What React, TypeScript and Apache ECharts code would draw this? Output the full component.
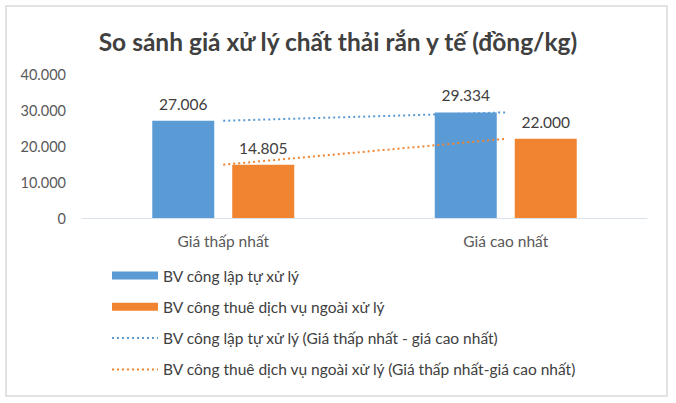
import React, { useEffect, useRef } from "react";
import * as echarts from "echarts";

const categories = ["Giá thấp nhất", "Giá cao nhất"];
const publicSelf = [27006, 29334];
const publicOutsourced = [14805, 22000];
const seriesNames = [
  "BV công lập tự xử lý",
  "BV công thuê dịch vụ ngoài xử lý",
  "BV công lập tự xử lý (Giá thấp nhất - giá cao nhất)",
  "BV công thuê dịch vụ ngoài xử lý (Giá thấp nhất-giá cao nhất)",
];
const titleText = "So sánh giá xử lý chất thải rắn y tế (đồng/kg)";

const BLUE = "#5B9BD5";
const ORANGE = "#F08430";
const TEXT = "#404040";
const FONT = "Lato, 'Open Sans', sans-serif";

const fmt = (v: number) =>
  String(Math.round(v)).replace(/\B(?=(\d{3})+(?!\d))/g, ".");

export default function App() {
  const ref = useRef<HTMLDivElement>(null);
  useEffect(() => {
    if (!ref.current) return;
    const chart = echarts.init(ref.current, null, { renderer: "svg" });
    chart.setOption({
      animation: false,
      backgroundColor: "#ffffff",
      textStyle: { fontFamily: FONT },
      graphic: [
        {
          type: "rect",
          shape: { x: 6, y: 6, width: 661, height: 390 },
          style: { fill: "none", stroke: "#d9d9d9", lineWidth: 1.5 },
          silent: true,
        },
      ],
      title: {
        text: titleText,
        left: "center",
        top: 24,
        textStyle: {
          fontFamily: FONT,
          fontSize: 24.5,
          fontWeight: "bold",
          color: TEXT,
        },
      },
      legend: {
        orient: "vertical",
        left: 106,
        top: 262,
        itemWidth: 46,
        itemHeight: 8,
        itemGap: 14.3,
        textStyle: {
          fontFamily: FONT,
          fontSize: 15.5,
          color: TEXT,
          lineHeight: 17,
        },
        data: [
          { name: seriesNames[0], icon: "rect" },
          { name: seriesNames[1], icon: "rect" },
          { name: seriesNames[2], itemStyle: { opacity: 0 } },
          { name: seriesNames[3], itemStyle: { opacity: 0 } },
        ],
      },
      grid: { left: 82, right: 29, top: 74, height: 144 },
      xAxis: {
        type: "category",
        data: categories,
        axisLine: { lineStyle: { color: "#d9e1ea", width: 1 } },
        axisTick: { show: false },
        axisLabel: {
          fontFamily: FONT,
          fontSize: 15.5,
          color: "#595959",
          margin: 15,
        },
      },
      yAxis: {
        type: "value",
        min: 0,
        max: 40000,
        interval: 10000,
        splitLine: { show: false },
        axisLine: { show: false },
        axisTick: { show: false },
        axisLabel: {
          fontFamily: FONT,
          fontSize: 14.5,
          color: "#595959",
          margin: 16,
          formatter: (v: number) => fmt(v),
        },
      },
      series: [
        {
          name: seriesNames[0],
          type: "bar",
          data: publicSelf,
          barWidth: 62,
          barGap: "29%",
          itemStyle: { color: BLUE },
          label: {
            show: true,
            position: "top",
            distance: 9,
            fontFamily: FONT,
            fontSize: 15.5,
            color: TEXT,
            formatter: (p: any) => fmt(p.value),
          },
        },
        {
          name: seriesNames[1],
          type: "bar",
          data: publicOutsourced,
          barWidth: 62,
          barGap: "29%",
          itemStyle: { color: ORANGE },
          label: {
            show: true,
            position: "top",
            distance: 9,
            fontFamily: FONT,
            fontSize: 15.5,
            color: TEXT,
            formatter: (p: any) => fmt(p.value),
          },
        },
        {
          name: seriesNames[2],
          type: "line",
          data: publicSelf,
          symbol: "none",
          z: 5,
          itemStyle: { color: BLUE },
          lineStyle: { color: BLUE, width: 2, type: [2, 3] },
        },
        {
          name: seriesNames[3],
          type: "line",
          data: publicOutsourced,
          symbol: "none",
          z: 5,
          itemStyle: { color: ORANGE },
          lineStyle: { color: ORANGE, width: 2, type: [2, 3] },
        },
      ],
    });
    return () => chart.dispose();
  }, []);
  return (
    <div
      ref={ref}
      style={{ position: "absolute", left: 0, top: 0, width: 676, height: 403 }}
    />
  );
}
